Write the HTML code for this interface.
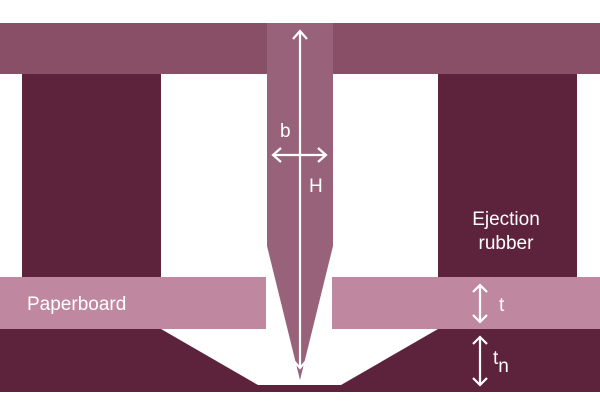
<!DOCTYPE html>
<html><head><style>body{margin:0;background:#fff}</style></head><body>
<svg width="600" height="414" viewBox="0 0 600 414" xmlns="http://www.w3.org/2000/svg" font-family="Liberation Sans, sans-serif">
<rect x="0" y="23" width="600" height="51" fill="#884f66"/>
<rect x="22" y="74" width="139" height="204" fill="#5e233c"/>
<rect x="438" y="74" width="139" height="204" fill="#5e233c"/>
<path d="M0 329 H161 L258 385 H341 L438 329 H600 V392 H0 Z" fill="#5e233c"/>
<rect x="0" y="277" width="266" height="52" fill="#c088a0"/>
<rect x="332" y="277" width="268" height="52" fill="#c088a0"/>
<path d="M267 23 H333 V246 L300 380 L267 246 Z" fill="#98637a"/>
<g stroke="#fff" stroke-width="2.2" fill="none">
<line x1="300" y1="31" x2="300" y2="368"/>
<polyline points="293,39 300,31 307,39"/>
<polyline points="293,360 300,368 307,360"/>
<line x1="273" y1="155" x2="326" y2="155"/>
<polyline points="281,148 273,155 281,162"/>
<polyline points="318,148 326,155 318,162"/>
<line x1="480" y1="285" x2="480" y2="322"/>
<polyline points="473,292 480,285 487,292"/>
<polyline points="473,315 480,322 487,315"/>
<line x1="480" y1="337" x2="480" y2="385"/>
<polyline points="473,344 480,337 487,344"/>
<polyline points="473,378 480,385 487,378"/>
</g>
<g fill="#fff" font-size="19">
<text x="280" y="137">b</text>
<text x="309" y="192">H</text>
<text x="499" y="311">t</text>
<text x="493" y="364">t<tspan dy="8">n</tspan></text>
<text x="27" y="310">Paperboard</text>
<text x="506" y="225" text-anchor="middle">Ejection</text>
<text x="506" y="249" text-anchor="middle">rubber</text>
</g>
</svg>
</body></html>
